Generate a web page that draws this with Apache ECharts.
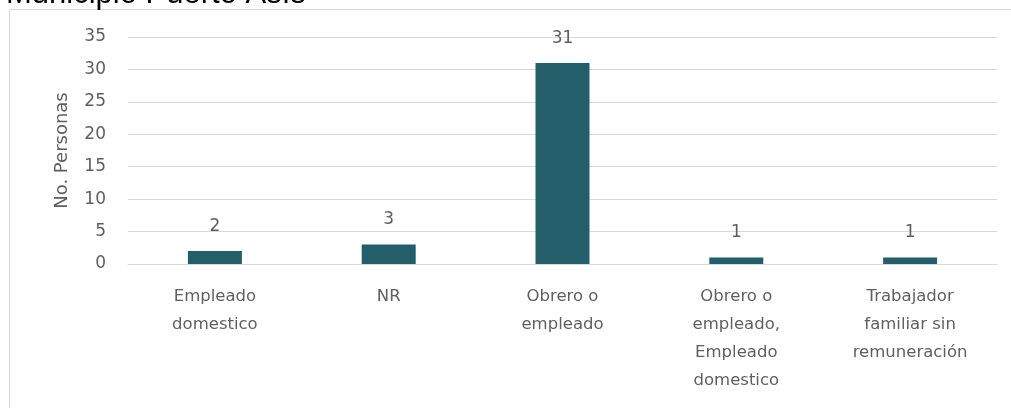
<!DOCTYPE html>
<html>
<head>
<meta charset="utf-8">
<script src="https://cdn.jsdelivr.net/npm/echarts@6/dist/echarts.min.js"></script>
<style>
  html, body { margin: 0; padding: 0; background: #ffffff; }
  #chart { width: 1011px; height: 408px; }
</style>
</head>
<body>
<div id="chart"></div>
<script>
const titleText = 'Municipio Puerto Asís';
const yAxisName = 'No. Personas';
const categories = [
  'Empleado\ndomestico',
  'NR',
  'Obrero o\nempleado',
  'Obrero o\nempleado,\nEmpleado\ndomestico',
  'Trabajador\nfamiliar sin\nremuneración'
];
const personas = [2, 3, 31, 1, 1];
const yMin = 0, yMax = 35, yStep = 5;

const txt = '#5f5f5f';
const font = 'DejaVu Sans';
const chart = echarts.init(document.getElementById('chart'));
chart.setOption({
  animation: false,
  backgroundColor: '#ffffff',
  graphic: [
    { type: 'rect', shape: { x: 9.5, y: 9.5, width: 1100, height: 500 },
      style: { fill: 'none', stroke: '#d9d9d9', lineWidth: 1 }, z: -1 },
    { type: 'text', left: 6, top: -21,
      style: { text: titleText, fill: '#000000', font: '31px "Liberation Sans"' } }
  ],
  grid: { left: 128, right: 14, top: 37, bottom: 144 },
  xAxis: {
    type: 'category',
    data: categories,
    axisLine: { show: true, lineStyle: { color: '#d9d9d9', width: 1 } },
    axisTick: { show: false },
    axisLabel: { color: txt, fontFamily: font, fontSize: 16.5, lineHeight: 28, margin: 19, interval: 0 }
  },
  yAxis: {
    type: 'value',
    min: yMin, max: yMax, interval: yStep,
    name: yAxisName,
    nameLocation: 'middle',
    nameGap: 57,
    nameTextStyle: { color: txt, fontFamily: font, fontSize: 18 },
    axisLine: { show: false },
    axisTick: { show: false },
    splitLine: { lineStyle: { color: '#d9d9d9', width: 1 } },
    axisLabel: { color: txt, fontFamily: font, fontSize: 17, margin: 22 }
  },
  series: [{
    type: 'bar',
    data: personas,
    barWidth: 54,
    itemStyle: { color: '#245E6B' },
    label: { show: true, position: 'top', distance: 16, color: txt, fontFamily: font, fontSize: 17 }
  }]
});
</script>
</body>
</html>
